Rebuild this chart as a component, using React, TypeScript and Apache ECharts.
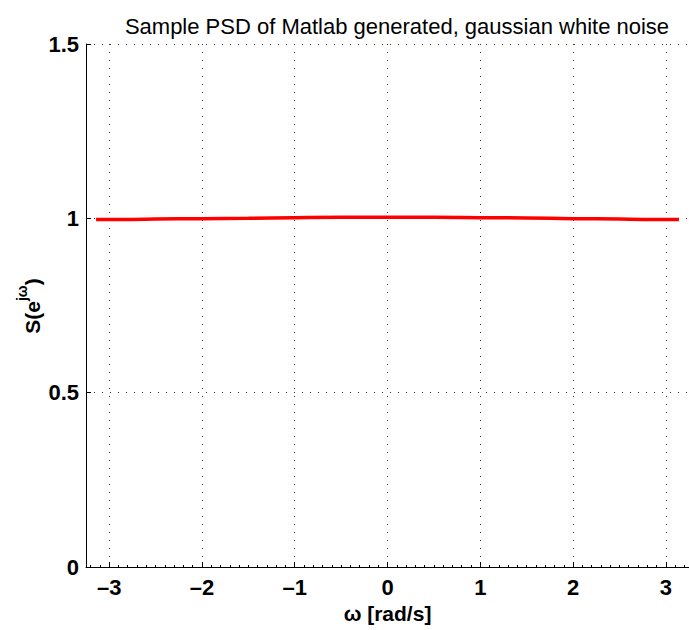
import React, { useEffect, useRef } from "react";
import * as echarts from "echarts";

const omega = [-3.1416, -2.75, -2.5, -2.0, -1.5, -1.0, -0.5, 0.0, 0.5, 1.0, 1.5, 2.0, 2.5, 2.75, 3.1416];
const psd = [0.997, 0.997, 0.998, 0.999, 1.000, 1.002, 1.003, 1.003, 1.003, 1.002, 1.001, 0.999, 0.998, 0.997, 0.997];
const xTicks = [-3, -2, -1, 0, 1, 2, 3];
const yTicks = [0, 0.5, 1, 1.5];
const titleText = "Sample PSD of Matlab generated, gaussian white noise";
const xLabel = "ω [rad/s]";

export default function App() {
  const ref = useRef<HTMLDivElement>(null);
  useEffect(() => {
    const chart = echarts.init(ref.current!, null, { renderer: "svg" });
    const font = "'Liberation Sans', Arial, Helvetica, sans-serif";
    const minorVals: number[] = [];
    for (let k = -32; k <= 32; k++) {
      if (k % 10 !== 0) minorVals.push(k / 10);
    }
    const gridLine = { show: true, lineStyle: { color: "#333", type: [1, 7], width: 1 } };
    chart.setOption({
      animation: false,
      backgroundColor: "#ffffff",
      title: {
        text: titleText,
        left: 392,
        textAlign: "center",
        top: 10,
        textStyle: { fontFamily: font, fontSize: 22, fontWeight: "normal", color: "#000" },
      },
      grid: { left: 86, top: 44, bottom: 63, right: -8, containLabel: false },
      xAxis: [
        {
          type: "value",
          min: -3.25,
          max: 3.25,
          name: xLabel,
          nameLocation: "middle",
          nameGap: 30,
          nameTextStyle: { fontFamily: font, fontSize: 21, fontWeight: "bold", color: "#000" },
          axisLine: { show: true, onZero: false, lineStyle: { color: "#000", width: 1 } },
          axisTick: { show: true, inside: true, length: 5, customValues: xTicks, lineStyle: { color: "#000" } },
          axisLabel: {
            customValues: xTicks,
            margin: 9,
            fontFamily: font,
            fontSize: 22,
            fontWeight: "bold",
            color: "#000",
            formatter: (v: number) => (v < 0 ? "\u2013" + Math.abs(v) : String(v)),
          },
          splitLine: gridLine,
        },
        {
          type: "value",
          min: -3.25,
          max: 3.25,
          position: "bottom",
          axisLine: { show: false, onZero: false },
          axisTick: { show: true, inside: true, length: 2, customValues: minorVals, lineStyle: { color: "#000" } },
          axisLabel: { show: false },
          splitLine: { show: false },
        },
      ],
      yAxis: {
        type: "value",
        min: 0,
        max: 1.5,
        interval: 0.5,
        axisLine: { show: true, onZero: false, lineStyle: { color: "#000", width: 1 } },
        axisTick: { show: true, inside: true, length: 5, lineStyle: { color: "#000" } },
        axisLabel: {
          margin: 7,
          fontFamily: font,
          fontSize: 22,
          fontWeight: "bold",
          color: "#000",
          formatter: (v: number) => (yTicks.includes(v) ? String(v) : ""),
        },
        splitLine: gridLine,
      },
      graphic: [
        {
          type: "text",
          x: 29,
          y: 306,
          rotation: Math.PI / 2,
          style: {
            text: "{b|S(e}{s|jω}{b|)}",
            align: "center",
            verticalAlign: "middle",
            rich: {
              b: { fontFamily: font, fontSize: 21, fontWeight: "bold", fill: "#000", lineHeight: 28, verticalAlign: "bottom" },
              s: { fontFamily: font, fontSize: 14, fontWeight: "bold", fill: "#000", lineHeight: 16, verticalAlign: "top" },
            },
          },
        },
      ],
      series: [
        {
          type: "line",
          xAxisIndex: 0,
          data: omega.map((w, i) => [w, psd[i]]),
          smooth: true,
          showSymbol: false,
          lineStyle: { color: "#ff0000", width: 3.5 },
          z: 5,
        },
      ],
    });
    return () => chart.dispose();
  }, []);
  return <div ref={ref} style={{ position: "fixed", left: 0, top: 0, width: 689, height: 630 }} />;
}
